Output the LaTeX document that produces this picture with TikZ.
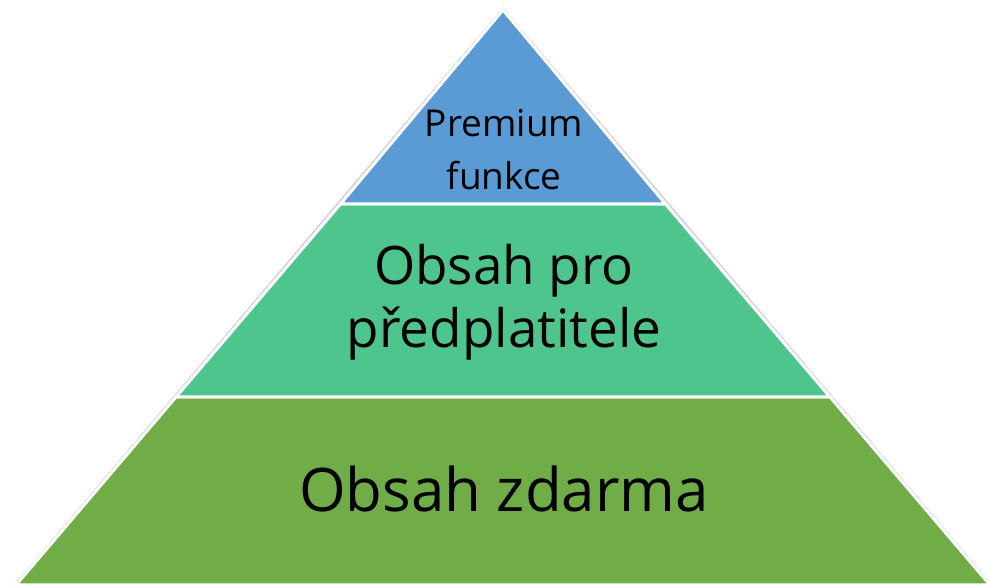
\documentclass[tikz,border=0pt]{standalone}
\usepackage{fontspec}
\setmainfont[Ligatures=NoCommon]{Open Sans}
\definecolor{topblue}{HTML}{5B9BD5}
\definecolor{midgreen}{HTML}{4FC58E}
\definecolor{botgreen}{HTML}{70AD47}
\definecolor{edgegray}{HTML}{D0D0D8}
\begin{document}
\begin{tikzpicture}[x=1pt,y=1pt,
  layer/.style={draw=white,line width=3pt,line join=miter},
  lbl/.style={anchor=base,text=black,inner sep=0pt}]
\useasboundingbox (0,0) rectangle (988,585);
% coordinates (y = 585 - pixel y)
\coordinate (apex) at (503,575);
\coordinate (l1) at (340.5,381);
\coordinate (r1) at (665.5,381);
\coordinate (l2) at (176,188);
\coordinate (r2) at (830,188);
\coordinate (l3) at (16,0);
\coordinate (r3) at (990,0);
\draw[edgegray,line width=3.6pt,line join=miter] (apex) -- (r3) -- (l3) -- cycle;
\fill[botgreen,layer] (l2) -- (r2) -- (r3) -- (l3) -- cycle;
\fill[midgreen,layer] (l1) -- (r1) -- (r2) -- (l2) -- cycle;
\fill[topblue,layer] (apex) -- (r1) -- (l1) -- cycle;
\node[lbl,font=\fontsize{37}{52}\selectfont] (t1a) at (504,448) {Premium};
\node[lbl,font=\fontsize{37}{52}\selectfont] (t1b) at (504,395) {funkce};
\node[lbl,font=\fontsize{53}{63}\selectfont] (t2a) at (504,300) {Obsah pro};
\node[lbl,font=\fontsize{53}{63}\selectfont] (t2b) at (504,237) {předplatitele};
\node[lbl,font=\fontsize{60}{70}\selectfont] (t3) at (504,73) {Obsah zdarma};
\end{tikzpicture}
\end{document}
